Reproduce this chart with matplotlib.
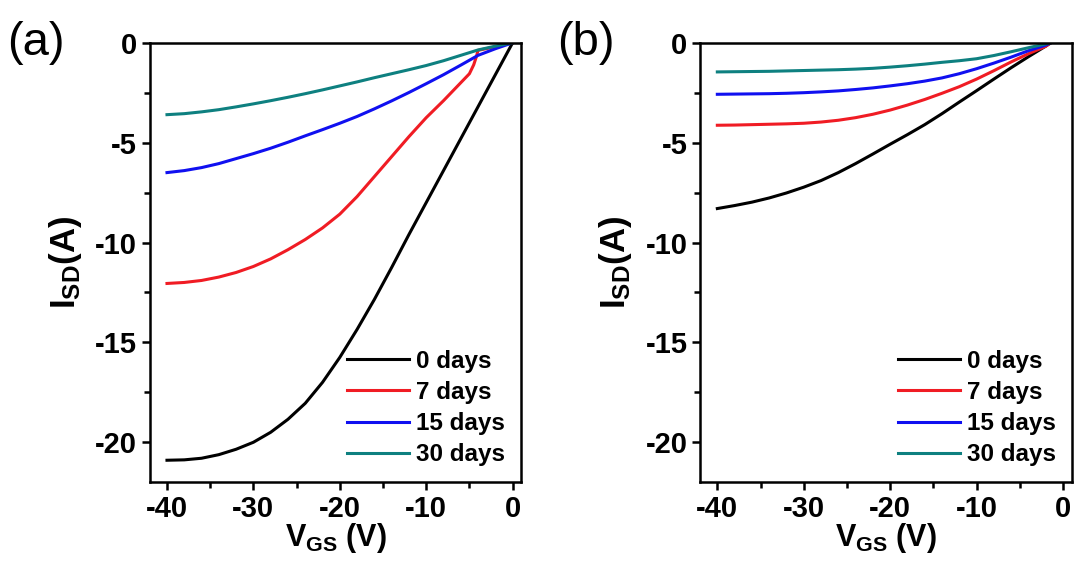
import matplotlib
matplotlib.use("Agg")
import matplotlib.pyplot as plt
from matplotlib.ticker import MultipleLocator

plt.rcParams['font.family'] = 'Liberation Sans'
plt.rcParams['font.weight'] = 'bold'
plt.rcParams['axes.labelweight'] = 'bold'
plt.rcParams['axes.unicode_minus'] = False
plt.rcParams['mathtext.fontset'] = 'custom'
plt.rcParams['mathtext.rm'] = 'Liberation Sans:bold'
plt.rcParams['mathtext.it'] = 'Liberation Sans:bold'
plt.rcParams['mathtext.bf'] = 'Liberation Sans:bold'

labels = ['0 days', '7 days', '15 days', '30 days']
colors = ['#000000', '#f01c24', '#1010f0', '#0e8080']

# panel (a)
vgs_a = [-40, -38, -36, -34, -32, -30, -28, -26, -24, -22, -20,
         -18, -16, -14, -12, -10, -8, -6, -4, -2, 0]
a_0d = [-20.9, -20.88, -20.8, -20.62, -20.35, -20.0, -19.5, -18.85, -18.05, -17.0, -15.75,
        -14.35, -12.85, -11.25, -9.6, -8.0, -6.4, -4.8, -3.2, -1.6, 0.0]
a_7d_x = [-40, -38, -36, -34, -32, -30, -28, -26, -24, -22, -20,
          -18, -16, -14, -12, -10, -8, -6, -5, -4.5, -4.2, -4.0, -2, 0]
a_7d = [-12.05, -12.0, -11.9, -11.73, -11.5, -11.2, -10.82, -10.36, -9.85, -9.27, -8.58,
        -7.7, -6.7, -5.7, -4.7, -3.75, -2.9, -2.0, -1.55, -1.1, -0.7, -0.38, -0.2, 0.0]
a_15d = [-6.5, -6.4, -6.25, -6.05, -5.8, -5.55, -5.28, -4.98, -4.66, -4.35, -4.03,
         -3.69, -3.31, -2.91, -2.49, -2.05, -1.6, -1.12, -0.63, -0.3, 0.0]
a_30d = [-3.6, -3.55, -3.46, -3.35, -3.21, -3.06, -2.9, -2.73, -2.55, -2.36, -2.16,
         -1.96, -1.75, -1.55, -1.35, -1.14, -0.9, -0.63, -0.36, -0.17, 0.0]

# panel (b)
vgs_b = [-40, -38, -36, -34, -32, -30, -28, -26, -24, -22, -20,
         -18, -16, -14, -12, -10, -8, -6, -4, -2, -1.4]
b_0d = [-8.3, -8.15, -7.98, -7.77, -7.52, -7.23, -6.9, -6.5, -6.05, -5.57, -5.08,
        -4.6, -4.1, -3.55, -2.97, -2.4, -1.82, -1.25, -0.7, -0.17, 0.0]
b_7d = [-4.13, -4.12, -4.1, -4.08, -4.06, -4.03, -3.97, -3.88, -3.75, -3.58, -3.37,
        -3.12, -2.84, -2.53, -2.2, -1.82, -1.4, -0.96, -0.55, -0.18, 0.0]
b_15d = [-2.58, -2.57, -2.56, -2.55, -2.53, -2.5, -2.46, -2.41, -2.34, -2.26, -2.16,
         -2.05, -1.92, -1.76, -1.55, -1.3, -1.02, -0.72, -0.4, -0.12, 0.0]
b_30d = [-1.46, -1.45, -1.44, -1.43, -1.41, -1.39, -1.37, -1.35, -1.32, -1.28, -1.22,
         -1.15, -1.07, -0.98, -0.9, -0.8, -0.64, -0.45, -0.25, -0.06, 0.0]

fig = plt.figure(figsize=(10.77, 5.70), dpi=100)
ax_a = fig.add_axes([0.139, 0.154, 0.345, 0.771])
ax_b = fig.add_axes([0.650, 0.154, 0.345, 0.771])

series_a = [(vgs_a, a_0d), (a_7d_x, a_7d), (vgs_a, a_15d), (vgs_a, a_30d)]
series_b = [(vgs_b, b_0d), (vgs_b, b_7d), (vgs_b, b_15d), (vgs_b, b_30d)]

for ax, series, tag in [(ax_a, series_a, '(a)'), (ax_b, series_b, '(b)')]:
    for (x, y), c, lab in zip(series, colors, labels):
        ax.plot(x, y, color=c, lw=2.2, label=lab, solid_joinstyle='round')
    ax.set_xlim(-42, 1)
    ax.set_ylim(-22, 0)
    ax.xaxis.set_major_locator(MultipleLocator(10))
    ax.xaxis.set_minor_locator(MultipleLocator(5))
    ax.yaxis.set_major_locator(MultipleLocator(5))
    ax.yaxis.set_minor_locator(MultipleLocator(2.5))
    ax.tick_params(which='both', direction='out', width=1.8, labelsize=21)
    ax.tick_params(which='major', length=6, pad=3)
    ax.tick_params(which='minor', length=4)
    ax.tick_params(top=False, right=False)
    for sp in ax.spines.values():
        sp.set_linewidth(1.8)
    ax.set_xlabel(r'V$_{\mathrm{GS}}$ (V)', fontsize=22, labelpad=-1)
    ax.set_ylabel(r'I$_{\mathrm{SD}}$(A)', fontsize=25, labelpad=8)
    ax.legend(loc='lower right', bbox_to_anchor=(1.0, 0.0), frameon=False,
              fontsize=17.5, handlelength=2.55, handletextpad=0.3, labelspacing=0.34,
              borderaxespad=0.25)
    ax.text(-0.385, 1.0, tag, transform=ax.transAxes, fontsize=34,
            fontweight='normal', va='center', ha='left')

fig.savefig('out.png', dpi=100)
